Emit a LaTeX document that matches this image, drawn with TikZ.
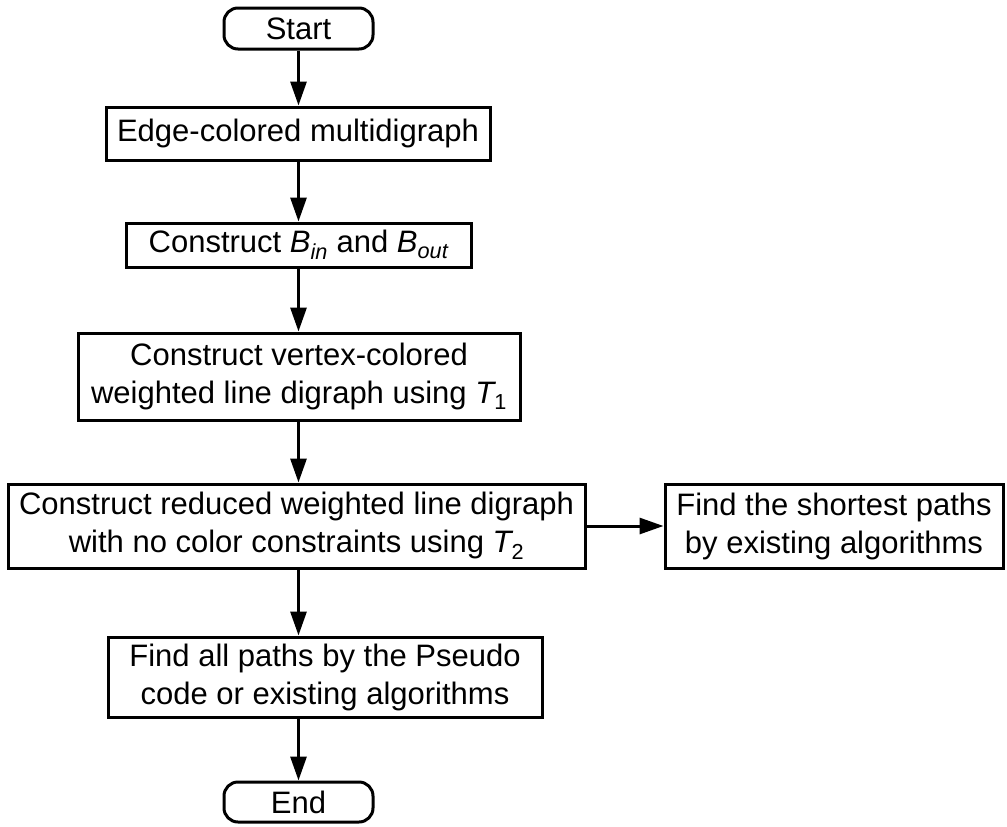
\documentclass[tikz,border=0pt]{standalone}
\usepackage{fontspec}
\setmainfont{Liberation Sans}
\usetikzlibrary{arrows.meta}
\newcommand{\itsub}[2]{{\itshape #1}\textsubscript{#2}}
\begin{document}
\begin{tikzpicture}[x=1pt,y=-1pt,
  base/.style={draw=black, line width=3pt, align=center, inner sep=0pt,
    font=\fontsize{31}{38}\selectfont},
  procbox/.style={base},
  termbox/.style={base, rounded corners=14pt},
  flow/.style={line width=3pt, -{Triangle[width=16pt,length=24pt]}}]
\useasboundingbox (0,0) rectangle (1007,827);
\coordinate (axis) at (298.5,0);
\node[termbox, minimum width=149pt, minimum height=41pt] (start) at (298.5,28.5) {Start};
\node[procbox, minimum width=384pt, minimum height=53pt] (edge) at (298,133.5) {Edge-colored multidigraph};
\node[procbox, minimum width=345pt, minimum height=44pt] (bio) at (298.5,245) {Construct \itsub{B}{\itshape in} and \itsub{B}{\itshape out}};
\node[procbox, minimum width=442pt, minimum height=87pt] (vert) at (299,376.5) {Construct vertex-colored\\weighted line digraph using \itsub{T}{1}};
\node[procbox, minimum width=577pt, minimum height=84pt] (red) at (296.5,526) {Construct reduced weighted line digraph\\with no color constraints using \itsub{T}{2}};
\node[procbox, minimum width=338pt, minimum height=84pt] (short) at (834,526) {Find the shortest paths\\by existing algorithms};
\node[procbox, minimum width=434pt, minimum height=80pt] (all) at (325,677) {Find all paths by the Pseudo\\code or existing algorithms};
\node[termbox, minimum width=149pt, minimum height=40pt] (end) at (298.5,802) {End};
\draw[flow] (start.south -| axis) -- (edge.north -| axis);
\draw[flow] (edge.south -| axis) -- (bio.north -| axis);
\draw[flow] (bio.south -| axis) -- (vert.north -| axis);
\draw[flow] (vert.south -| axis) -- (red.north -| axis);
\draw[flow] (red.east) -- (short.west);
\draw[flow] (red.south -| axis) -- (all.north -| axis);
\draw[flow] (all.south -| axis) -- (end.north -| axis);
\end{tikzpicture}
\end{document}
